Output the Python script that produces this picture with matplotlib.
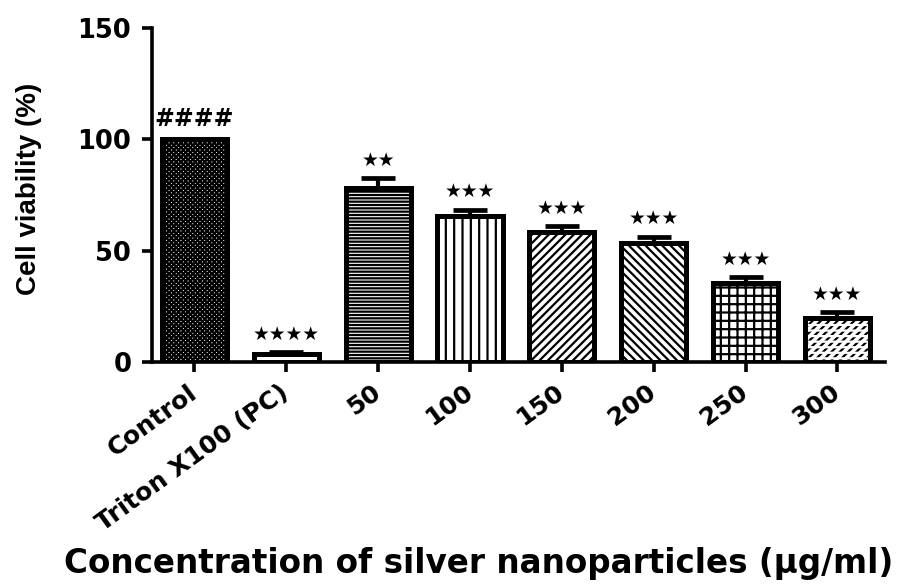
import matplotlib
matplotlib.use("Agg")
import matplotlib.pyplot as plt
import numpy as np

categories = ["Control", "Triton X100 (PC)", "50", "100", "150", "200", "250", "300"]
viability = [100, 3.5, 78, 65.5, 58.5, 53.5, 35.5, 20]
errors = [0, 1.0, 4.5, 3.0, 2.7, 2.8, 2.8, 2.5]
signif = ["####", "★★★★", "★★", "★★★", "★★★", "★★★", "★★★", "★★★"]
hatches = ["xxxxxxx", "--", "-----", "||", "////", "\\\\\\\\", "++", "////"]
breakers = [None, None, None, None, None, None, None, "---"]

plt.rcParams["font.family"] = ["DejaVu Sans"]
plt.rcParams["hatch.linewidth"] = 1.6

fig = plt.figure(figsize=(9.06, 5.84), dpi=100)
ax = fig.add_axes([0.168, 0.380, 0.809, 0.572])

x = np.arange(len(categories))
bars = ax.bar(x, viability, width=0.71, color="white", edgecolor="black",
              linewidth=0, zorder=2)
for b, h in zip(bars, hatches):
    b.set_hatch(h)
# white breaker hatches (for dashed diagonal pattern)
for xi, v, br in zip(x, viability, breakers):
    if br:
        ax.bar(xi, v, width=0.71, color="none", edgecolor="white",
               linewidth=0, hatch=br, zorder=2.1)
# outline
ax.bar(x, viability, width=0.71, color="none", edgecolor="black",
       linewidth=3.6, zorder=2.2)

ax.errorbar(x, viability, yerr=[np.zeros(len(x)), errors], fmt="none",
            ecolor="black", elinewidth=3, capsize=12, capthick=3.4, zorder=3)

for xi, v, e, s in zip(x, viability, errors, signif):
    if s.startswith("#"):
        ax.annotate(s, (xi, v + e), xytext=(0, 6), textcoords="offset points",
                    ha="center", va="bottom", fontsize=17, fontweight="bold")
    else:
        ax.annotate(s, (xi, v + e), xytext=(0, 6), textcoords="offset points",
                    ha="center", va="bottom", fontsize=13.5,
                    family=["DejaVu Sans"])

ax.set_xlim(-0.46, 7.52)
ax.set_ylim(0, 150)
ax.set_yticks([0, 50, 100, 150])
ax.set_xticks(x)
ax.set_xticklabels(categories, rotation=36, ha="right", va="center",
                   rotation_mode="anchor", fontsize=18, fontweight="bold")
for lab in ax.get_yticklabels():
    lab.set_fontsize(18.5)
    lab.set_fontweight("bold")

for sp in ["top", "right"]:
    ax.spines[sp].set_visible(False)
for sp in ["left", "bottom"]:
    ax.spines[sp].set_linewidth(2.6)
ax.tick_params(axis="both", width=2.6, length=7, direction="out")
ax.tick_params(axis="x", pad=13)
ax.tick_params(axis="y", pad=8)

ax.set_ylabel("Cell viability (%)", fontsize=20, fontweight="bold",
              family=["Liberation Sans Narrow", "Liberation Sans", "DejaVu Sans"])
ax.yaxis.set_label_coords(-0.15, 0.52)
fig.text(0.528, 0.018, "Concentration of silver nanoparticles (\u00b5g/ml)",
         ha="center", va="baseline", fontsize=23.5, fontweight="bold")

fig.savefig("out.png", dpi=100)
